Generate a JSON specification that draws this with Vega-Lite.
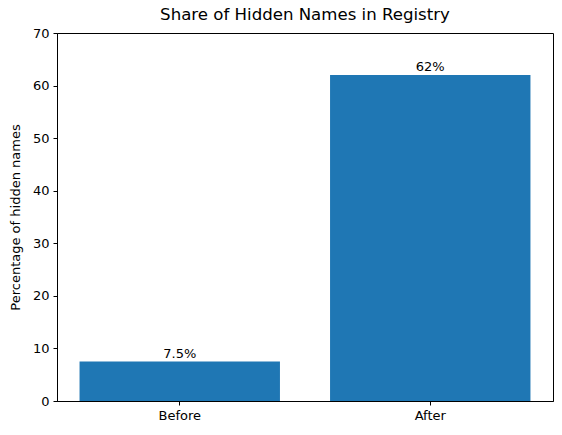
{
  "$schema": "https://vega.github.io/schema/vega-lite/v6.json",
  "width": 496,
  "height": 368,
  "autosize": {"type": "none"},
  "padding": {"left": 57, "top": 33, "right": 9, "bottom": 34},
  "background": "white",
  "title": {
    "text": "Share of Hidden Names in Registry",
    "font": "DejaVu Sans",
    "fontSize": 16.6,
    "fontWeight": "normal",
    "color": "black",
    "anchor": "middle",
    "offset": 3
  },
  "data": {
    "values": [
      {"period": "Before", "pct": 7.5, "label": "7.5%"},
      {"period": "After", "pct": 62, "label": "62%"}
    ]
  },
  "config": {
    "view": {"stroke": "black", "strokeWidth": 1},
    "axis": {
      "labelFont": "DejaVu Sans",
      "labelFontSize": 13,
      "labelColor": "black",
      "titleFont": "DejaVu Sans",
      "titleFontSize": 13,
      "titleFontWeight": "normal",
      "titleColor": "black",
      "domainColor": "black",
      "tickColor": "black",
      "tickSize": 4,
      "grid": false
    }
  },
  "encoding": {
    "x": {
      "field": "period",
      "type": "nominal",
      "sort": ["Before", "After"],
      "scale": {"paddingInner": 0.2, "paddingOuter": 0.09},
      "axis": {"title": null, "labelAngle": 0, "labelPadding": 4}
    }
  },
  "layer": [
    {
      "mark": {"type": "bar", "color": "#1f77b4"},
      "encoding": {
        "y": {
          "field": "pct",
          "type": "quantitative",
          "scale": {"domain": [0, 70], "nice": false},
          "axis": {"title": "Percentage of hidden names", "values": [0, 10, 20, 30, 40, 50, 60, 70], "labelPadding": 4, "titlePadding": 10}
        }
      }
    },
    {
      "mark": {"type": "text", "font": "DejaVu Sans", "fontSize": 13, "color": "black", "baseline": "bottom", "dy": -1},
      "encoding": {
        "y": {"field": "pct", "type": "quantitative"},
        "text": {"field": "label"}
      }
    }
  ]
}
